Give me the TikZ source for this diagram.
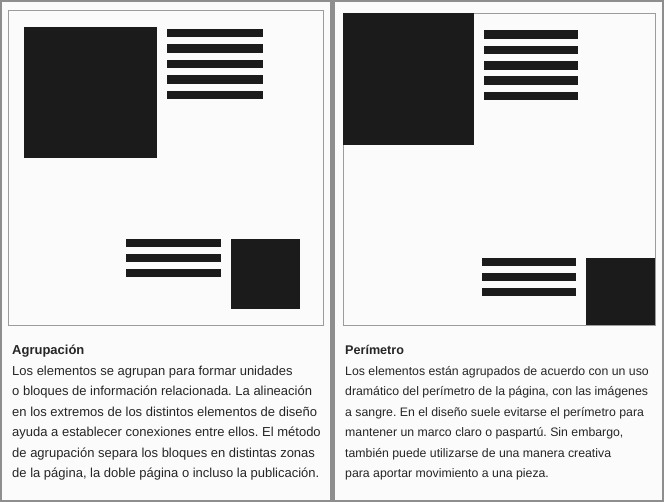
\documentclass[tikz,border=0pt]{standalone}
\usepackage{fontspec}
\setmainfont{Liberation Sans}
\usepackage{xcolor}
\definecolor{ink}{HTML}{1B1B1B}
\definecolor{rulegrey}{HTML}{8E8E8E}
\definecolor{paper}{HTML}{FBFBFB}
\definecolor{pagegrey}{HTML}{9C9C9C}
\definecolor{textgrey}{HTML}{262626}
\frenchspacing

\begin{document}
\begin{tikzpicture}[x=1pt, y=-1pt,
  block/.style={fill=ink},
  pageframe/.style={draw=pagegrey, line width=.7pt},
  caption/.style={anchor=base west, inner sep=0pt, text=textgrey, align=left,
    font=\fontsize{13}{20.4}\selectfont}]
\useasboundingbox (0,0) rectangle (664,502);
% fondo
\fill[rulegrey] (0,0) rectangle (664,502);
\fill[paper] (2,2) rectangle (330,500);
\fill[paper] (335,2) rectangle (662,500);

% Agrupacion
\draw[pageframe] (8,10) rectangle (323,325);
\fill[block] (24,27) rectangle (157,158);
\foreach \i in {0,...,4} \fill[block] (167,29+15.4*\i) rectangle ++(96,8.5);
\foreach \i in {0,1,2} \fill[block] (126,239+15*\i) rectangle ++(95,8.5);
\fill[block] (231,239) rectangle (300,309);

% Perimetro
\draw[pageframe] (343,13) rectangle (655,325);
\fill[block] (343,13) rectangle (474,145);
\foreach \i in {0,...,4} \fill[block] (484,30.5+15.3*\i) rectangle ++(94,8.5);
\foreach \i in {0,1,2} \fill[block] (482,258+15*\i) rectangle ++(94,8.5);
\fill[block] (586,258) rectangle (655,325);

% textos (la base del nodo es la ultima linea)
\node[caption, font=\fontsize{13}{20.4}\selectfont\bfseries] (tituloA) at (12,355) {Agrupación};
\node[caption] (textoA) at (12,477.5) {Los elementos se agrupan para formar unidades\\
o bloques de información relacionada. La alineación\\
en los extremos de los distintos elementos de diseño\\
ayuda a establecer conexiones entre ellos. El método\\
de agrupación separa los bloques en distintas zonas\\
de la página, la doble página o incluso la publicación.};

\node[caption, font=\fontsize{12.6}{20.4}\selectfont\bfseries] (tituloP) at (345,355) {Perímetro};
\node[caption, font=\fontsize{12.3}{20.4}\selectfont] (textoP) at (345,477.5) {Los elementos están agrupados de acuerdo con un uso\\
dramático del perímetro de la página, con las imágenes\\
a sangre. En el diseño suele evitarse el perímetro para\\
mantener un marco claro o paspartú. Sin embargo,\\
también puede utilizarse de una manera creativa\\
para aportar movimiento a una pieza.};
\end{tikzpicture}
\end{document}
